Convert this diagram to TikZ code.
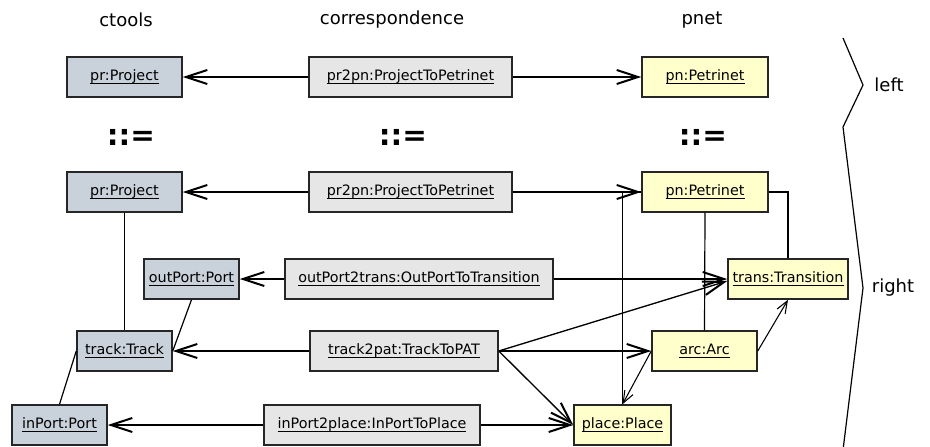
\documentclass[tikz,border=0pt]{standalone}
\usepackage{fontspec}
\setmainfont{DejaVu Sans}
\usetikzlibrary{arrows.meta}
\definecolor{ctc}{HTML}{C9D1DB}
\definecolor{crc}{HTML}{E6E6E6}
\definecolor{pnc}{HTML}{FFFFCC}
\newcommand\ulx[1]{\setbox0\hbox{#1}\rlap{\rule[-2.7pt]{\wd0}{0.6pt}}\box0}
\tikzset{
  obj/.style={draw=black!85, line width=1.1pt, minimum height=30pt, inner sep=0pt,
    font=\fontsize{10.75}{12}\selectfont},
  ct/.style={obj, fill=ctc},
  cr/.style={obj, fill=crc},
  pn/.style={obj, fill=pnc},
  hdr/.style={font=\fontsize{13.5}{16}\selectfont},
  bnf/.style={font=\fontsize{22}{26}\selectfont\bfseries},
  big/.style={line width=1.5pt, -{Straight Barb[length=16pt,width=10.5pt,line width=1.5pt]}},
  sml/.style={line width=0.8pt, -{Straight Barb[length=9pt,width=7pt,line width=0.8pt]}},
  lnk/.style={line width=0.9pt},
}
\begin{document}
\begin{tikzpicture}[x=0.75pt,y=-0.75pt]
\useasboundingbox (0,0) rectangle (930,446);
% headers
\node[hdr] (h1) at (126,20) {ctools};
\node[hdr] (h2) at (392,20) {correspondence};
\node[hdr] (h3) at (702,20) {pnet};
% top row
\node[ct, minimum width=86.25pt] (prT) at (124.5,77) {\ulx{pr:Project}};
\node[cr, minimum width=152.25pt] (cT) at (410.5,77) {\ulx{pr2pn:ProjectToPetrinet}};
\node[pn, minimum width=94.5pt] (pnT) at (705,77) {\ulx{pn:Petrinet}};
% ::=
\node[bnf] (b1) at (131,137) {::=};
\node[bnf] (b2) at (403,137) {::=};
\node[bnf] (b3) at (703,137) {::=};
% second row
\node[ct, minimum width=86.25pt] (prB) at (124.5,192) {\ulx{pr:Project}};
\node[cr, minimum width=152.25pt] (cB) at (410.5,192) {\ulx{pr2pn:ProjectToPetrinet}};
\node[pn, minimum width=94.5pt] (pnB) at (705,192) {\ulx{pn:Petrinet}};
% third row
\node[ct, minimum width=71.25pt] (outP) at (191.5,279) {\ulx{outPort:Port}};
\node[cr, minimum width=201pt] (o2t) at (419,279) {\ulx{outPort2trans:OutPortToTransition}};
\node[pn, minimum width=90pt] (trans) at (788,279) {\ulx{trans:Transition}};
% fourth row
\node[ct, minimum width=71.25pt] (track) at (124.5,351) {\ulx{track:Track}};
\node[cr, minimum width=141pt] (t2p) at (404,351) {\ulx{track2pat:TrackToPAT}};
\node[pn, minimum width=78.75pt] (arc) at (704.5,351) {\ulx{arc:Arc}};
% fifth row
\node[ct, minimum width=71.25pt] (inP) at (59.5,425) {\ulx{inPort:Port}};
\node[cr, minimum width=162pt] (i2p) at (372,425) {\ulx{inPort2place:InPortToPlace}};
\node[pn, minimum width=72.75pt] (place) at (622.5,425) {\ulx{place:Place}};
% thin links
\draw[lnk] (prB.south) -- (track.north);
\draw[lnk] (outP.south) -- (track.east);
\draw[lnk] (track.west) -- (inP.north);
\draw[lnk] (pnB.south) -- (arc.north);
\draw[lnk] (pnB.east) -| (trans.north);
\draw[lnk] (place.north) |- (pnB.west);
% thick correspondence arrows
\draw[big] (cT.west) -- (prT.east);
\draw[big] (cT.east) -- (pnT.west);
\draw[big] (cB.west) -- (prB.east);
\draw[big] (cB.east) -- (pnB.west);
\draw[big] (o2t.west) -- (outP.east);
\draw[big] (o2t.east) -- (trans.west);
\draw[big] (t2p.west) -- (track.east);
\draw[big] (t2p.east) -- (arc.west);
\draw[big] (i2p.west) -- (inP.east);
\draw[big] (i2p.east) -- (place.west);
\draw[big, line width=1pt] (t2p.east) -- ([yshift=-1.5pt]trans.west);
\draw[big, line width=1pt] (t2p.east) -- (place.west);
% thin arrows
\draw[sml] (arc.west) -- (place.north);
\draw[sml] (arc.east) -- (trans.south);
% brace
\coordinate (q1) at (843,38);
\coordinate (q2) at (863,85);
\coordinate (q3) at (843,127);
\coordinate (q4) at (863,288);
\coordinate (q5) at (843,450);
\draw[line width=0.9pt] (q1) -- (q2) -- (q3) -- (q4) -- (q5);
\node[hdr] (lL) at (889,85) {left};
\node[hdr] (lR) at (893,288) {right};
\end{tikzpicture}
\end{document}
